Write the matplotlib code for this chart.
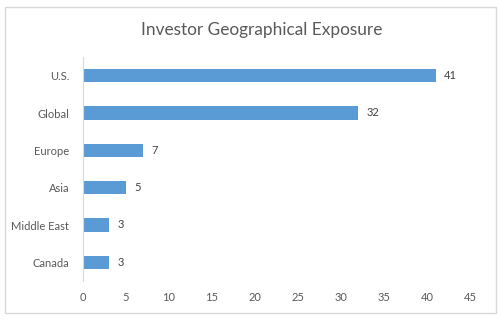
import matplotlib
matplotlib.use("Agg")
import matplotlib.pyplot as plt
from matplotlib.patches import Rectangle

regions = ["U.S.", "Global", "Europe", "Asia", "Middle East", "Canada"]
investors = [41, 32, 7, 5, 3, 3]
xticks = [0, 5, 10, 15, 20, 25, 30, 35, 40, 45]

plt.rcParams['font.family'] = ['Lato', 'DejaVu Sans']

fig = plt.figure(figsize=(5.01, 3.24), dpi=100)
ax = fig.add_axes([83/501, 1 - 281/324, (470 - 83)/501, (281 - 57)/324])

# chart border like excel
fig.patches.append(Rectangle((5/501, 1 - 313/324), 491/501, 306/324,
                             transform=fig.transFigure, fill=False,
                             edgecolor="#D9D9D9", linewidth=1))

ypos = list(range(len(regions)))
ax.barh(ypos, investors, height=0.35, color="#5B9BD5")
for y, v in zip(ypos, investors):
    ax.text(v + 1.0, y, str(v), va="center", ha="left", fontsize=8, color="#404040")

ax.set_xlim(0, 45)
ax.set_ylim(len(regions) - 0.5, -0.5)
ax.set_xticks(xticks)
ax.set_yticks(ypos)
ax.set_yticklabels(regions)
ax.tick_params(axis="both", length=0, labelsize=8, labelcolor="#595959")
ax.tick_params(axis="y", pad=10)
ax.tick_params(axis="x", pad=8)

for s in ["top", "right", "bottom"]:
    ax.spines[s].set_visible(False)
ax.spines["left"].set_color("#D9D9D9")

fig.text(262/501, 1 - 30/324, "Investor Geographical Exposure", ha="center", va="center",
         fontsize=12.4, color="#595959")

fig.savefig("out.png", dpi=100)
